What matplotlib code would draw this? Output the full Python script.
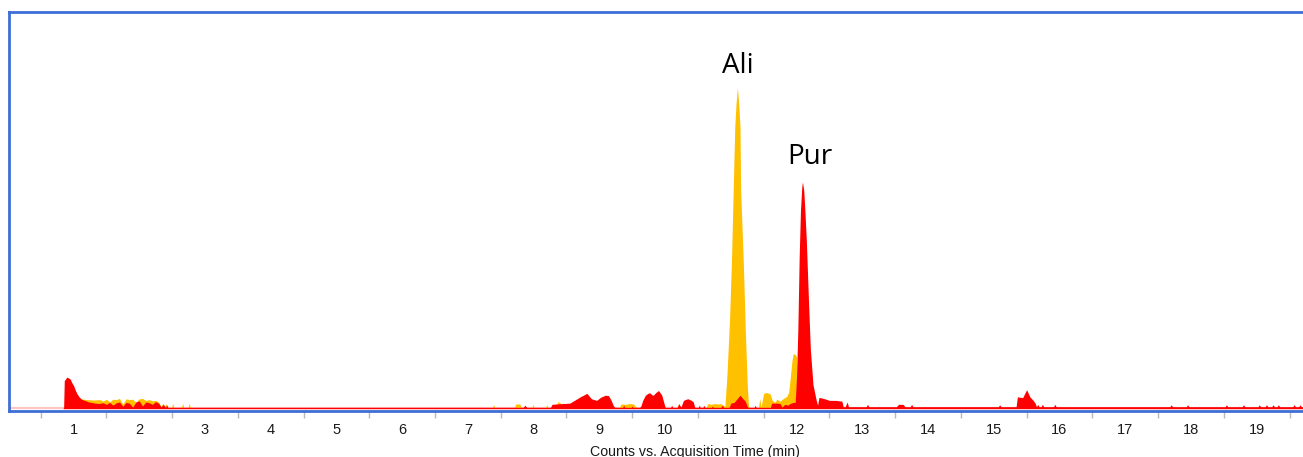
import matplotlib
matplotlib.use("Agg")
import matplotlib.pyplot as plt
import numpy as np

# ---- data (retention time in min, relative counts) ----
red_t = [0.85, 0.86, 0.90, 0.95, 0.98, 1.00, 1.03, 1.05, 1.08, 1.12, 1.17, 1.23, 1.30, 1.38,
         1.45, 1.50, 1.55, 1.60, 1.65, 1.70, 1.75, 1.80, 1.85, 1.90, 1.95, 2.00, 2.05, 2.10,
         2.15, 2.20, 2.25, 2.30, 2.33, 2.37, 2.40, 2.42, 2.44,
         7.83, 7.87, 7.90,
         8.25, 8.28, 8.35, 8.45, 8.55, 8.60, 8.66, 8.72, 8.78, 8.81, 8.85, 8.88, 8.92, 8.96,
         9.02, 9.09, 9.14, 9.18, 9.21, 9.24,
         9.35, 9.37, 9.39, 9.48, 9.50, 9.52,
         9.60, 9.63, 9.66, 9.70, 9.74, 9.77, 9.80, 9.82, 9.86, 9.90, 9.93, 9.95, 9.98, 10.00, 10.02,
         10.08, 10.10, 10.12,
         10.18, 10.21, 10.24, 10.28, 10.32, 10.35, 10.40, 10.43, 10.45, 10.47,
         10.50, 10.52, 10.54, 10.57, 10.59, 10.61, 10.70, 10.72, 10.74, 10.84, 10.87, 10.90,
         10.97, 11.00, 11.05, 11.10, 11.14, 11.18, 11.22, 11.25, 11.27,
         11.35, 11.37, 11.39,
         11.60, 11.62, 11.70, 11.75, 11.78, 11.82, 11.87, 11.90, 11.95,
         11.98, 12.00, 12.02, 12.04, 12.06, 12.08, 12.09, 12.11, 12.13, 12.15, 12.18, 12.21,
         12.25, 12.30,
         12.32, 12.34, 12.36, 12.45, 12.50, 12.60, 12.69, 12.71, 12.74, 12.77, 12.79,
         13.06, 13.08, 13.10, 13.52, 13.55, 13.62, 13.65, 13.73, 13.75, 13.77,
         15.07, 15.09, 15.11, 15.34, 15.36, 15.44, 15.50, 15.55, 15.60, 15.63, 15.65, 15.67,
         15.69, 15.72, 15.74, 15.76, 15.91, 15.93, 15.95,
         17.68, 17.70, 17.72, 17.93, 17.95, 17.97, 18.52, 18.54, 18.56, 18.78, 18.80, 18.82,
         19.02, 19.04, 19.06, 19.13, 19.15, 19.17, 19.23, 19.25, 19.27, 19.31, 19.33, 19.35,
         19.55, 19.57, 19.59, 19.64, 19.66, 19.68, 19.71]
red_h = [0.0, 7.0, 7.9, 7.4, 6.3, 5.8, 4.5, 3.8, 3.0, 2.3, 2.0, 1.6, 1.4, 1.2,
         1.4, 1.0, 1.5, 0.8, 1.4, 1.6, 0.5, 1.5, 1.3, 0.3, 1.6, 1.9, 0.6, 1.6,
         1.4, 1.0, 1.7, 1.2, 0.4, 1.0, 0.2, 0.9, 0.0,
         0.0, 0.8, 0.0,
         0.0, 1.0, 1.1, 1.2, 1.3, 1.8, 2.4, 3.0, 3.5, 3.8, 3.0, 2.4, 2.2, 2.0,
         2.8, 3.3, 3.2, 2.0, 0.8, 0.0,
         0.0, 0.8, 0.0, 0.0, 0.6, 0.0,
         0.0, 0.5, 2.0, 3.3, 3.8, 3.9, 3.4, 3.3, 4.0, 4.5, 3.8, 3.3, 1.5, 0.3, 0.0,
         0.0, 0.8, 0.0,
         0.0, 1.2, 0.3, 2.0, 2.3, 2.4, 2.0, 1.6, 0.3, 0.0,
         0.0, 0.8, 0.0, 0.0, 0.8, 0.0, 0.0, 0.6, 0.0, 0.0, 0.8, 0.0,
         0.0, 1.3, 1.5, 2.5, 3.3, 2.5, 1.8, 0.5, 0.0,
         0.0, 0.8, 0.0,
         0.0, 1.3, 1.3, 1.2, 0.3, 1.0, 0.8, 1.2, 1.5,
         1.5, 8.0, 20.0, 38.0, 50.0, 56.0, 57.2, 55.0, 49.0, 42.0, 28.0, 15.0,
         6.0, 2.0,
         0.8, 2.7, 2.7, 2.3, 2.0, 2.0, 1.8, 0.4, 0.4, 1.6, 0.4,
         0.4, 1.0, 0.4, 0.4, 1.0, 1.0, 0.4, 0.4, 1.0, 0.4,
         0.4, 0.9, 0.4, 0.4, 2.9, 2.7, 4.7, 2.9, 2.0, 1.3, 0.4, 1.0,
         0.4, 0.4, 1.0, 0.4, 0.4, 1.0, 0.4,
         0.4, 0.9, 0.4, 0.4, 0.9, 0.4, 0.4, 0.9, 0.4, 0.4, 0.9, 0.4,
         0.4, 0.9, 0.4, 0.4, 0.9, 0.4, 0.4, 0.9, 0.4, 0.4, 0.9, 0.4,
         0.4, 0.9, 0.4, 0.4, 0.9, 0.4, 0.4]

yel_t = [1.05, 1.08, 1.12, 1.20, 1.30, 1.40, 1.45, 1.50, 1.55, 1.60, 1.65, 1.70, 1.75, 1.80,
         1.85, 1.90, 1.95, 2.00, 2.05, 2.10, 2.15, 2.20, 2.25, 2.30, 2.33, 2.36, 2.38, 2.41, 2.43,
         2.49, 2.51, 2.53, 2.64, 2.66, 2.68, 2.74, 2.76, 2.78,
         7.37, 7.39, 7.41, 7.70, 7.73, 7.79, 7.82, 7.97, 7.99, 8.01, 8.18, 8.20, 8.22,
         8.33, 8.37, 8.42, 8.45,
         9.30, 9.33, 9.40, 9.45, 9.52, 9.56, 9.60,
         10.18, 10.20, 10.22,
         10.62, 10.65, 10.70, 10.75, 10.80, 10.85, 10.88, 10.91,
         10.94, 10.98, 11.01, 11.06, 11.08, 11.10, 11.12, 11.14, 11.15, 11.19, 11.22, 11.25,
         11.27, 11.30,
         11.42, 11.44, 11.46, 11.50, 11.55, 11.60, 11.63, 11.67, 11.70, 11.75, 11.80, 11.85,
         11.88, 11.90, 11.93, 11.95, 11.98, 12.00, 12.02, 12.05, 12.40, 12.42]
yel_h = [0.0, 2.6, 2.4, 2.2, 2.1, 2.2, 1.8, 2.3, 1.6, 2.3, 2.2, 2.5, 1.0, 2.4,
         2.2, 2.3, 1.5, 2.4, 2.5, 2.0, 2.2, 1.9, 2.0, 1.5, 0.3, 1.4, 0.2, 1.2, 0.0,
         0.0, 1.3, 0.0, 0.0, 1.3, 0.0, 0.0, 1.3, 0.0,
         0.0, 1.0, 0.0, 0.0, 1.1, 1.1, 0.0, 0.0, 1.0, 0.0, 0.0, 1.0, 0.0,
         0.0, 1.7, 1.2, 0.0,
         0.0, 1.1, 1.0, 1.2, 1.1, 0.3, 0.0,
         0.0, 1.1, 0.0,
         0.0, 1.2, 1.0, 1.2, 1.1, 1.2, 0.8, 0.5,
         8.0, 22.0, 37.0, 71.0, 77.0, 81.0, 77.0, 71.0, 55.0, 37.0, 20.0, 6.0,
         0.5, 0.0,
         0.0, 2.5, 0.3, 3.8, 4.0, 3.6, 2.0, 1.5, 2.3, 1.8, 2.5, 3.0,
         4.0, 7.0, 12.0, 13.8, 13.6, 13.0, 4.0, 0.5, 0.5, 0.0]

x_ticks = list(range(1, 20))
x_label = "Counts vs. Acquisition Time (min)"
peak_labels = ["Ali", "Pur"]
peak_pos_t = [11.11, 12.20]
peak_pos_h = [86.4, 63.5]

RED = "#ff0000"
YEL = "#ffc000"
BLUE = "#3d6fd6"

fig = plt.figure(figsize=(13.03, 4.57), dpi=100)
ax = fig.add_axes([9 / 1303, 1 - 411 / 457, 1 - 9 / 1303 + 0.01, (411 - 12) / 457])
ax.set_xlim(0.019, 19.705 + 0.01 * 1303 / 65.73)
ax.set_ylim(-0.68, 100.1)

ax.axhline(0, color="#ffc4c4", lw=1.6, zorder=1)
ax.fill_between(yel_t, 0, yel_h, color=YEL, lw=0, zorder=2)
ax.fill_between(red_t, 0, red_h, color=RED, lw=0, zorder=3)
ax.plot([red_t[0], red_t[-1]], [0, 0], color=RED, lw=1.0, zorder=3)

for lab, t, h in zip(peak_labels, peak_pos_t, peak_pos_h):
    ax.text(t, h, lab, ha="center", va="center", fontsize=20,
            family="Open Sans", color="black")

for side in ["left", "top", "bottom"]:
    ax.spines[side].set_color(BLUE)
    ax.spines[side].set_linewidth(2)
ax.spines["right"].set_visible(False)

ax.set_yticks([])
ax.set_xticks(x_ticks)
ax.set_xticks([v + 0.5 for v in range(0, 20)], minor=True)
ax.tick_params(axis="x", which="major", length=0, pad=9, labelsize=10.5,
               labelcolor="#1a1a1a")
ax.tick_params(axis="x", which="minor", length=5, color="#b8b8b8", width=1)
for lbl in ax.get_xticklabels():
    lbl.set_family("Liberation Sans")
ax.set_xlabel(x_label, fontsize=10.2, family="Liberation Sans", color="#1a1a1a")
ax.xaxis.set_label_coords((695 - 9) / (1303 - 9 + 13), -0.085)

fig.savefig("out.png", dpi=100)
